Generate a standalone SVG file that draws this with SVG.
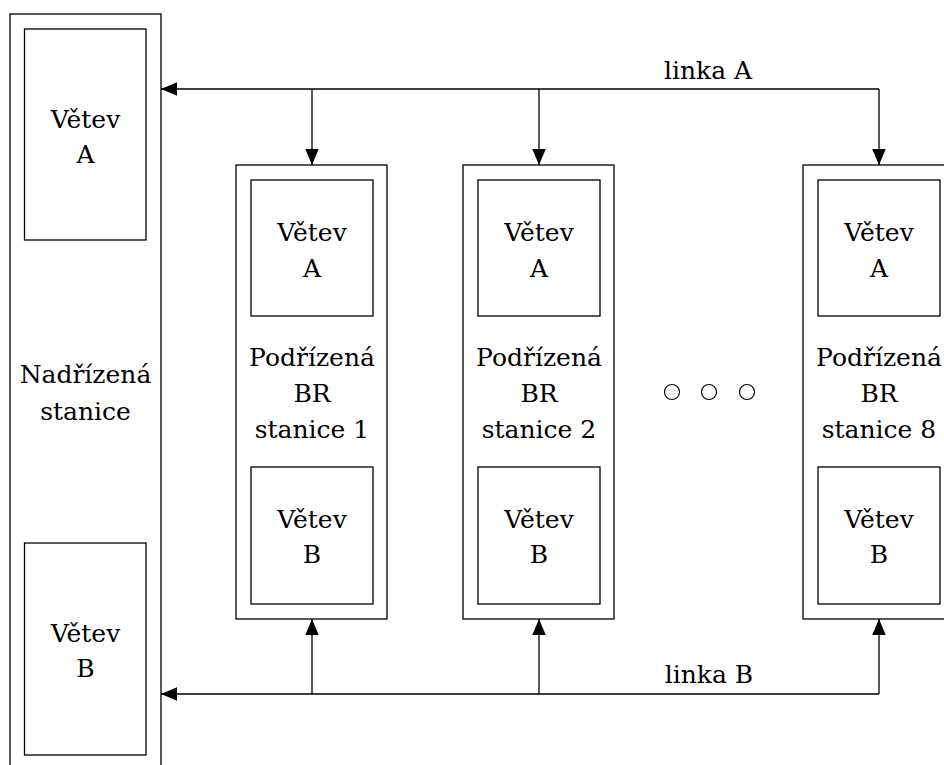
<svg xmlns="http://www.w3.org/2000/svg" width="944" height="765" viewBox="0 0 944 765">
  <defs>
    <marker id="arrow" markerUnits="userSpaceOnUse" markerWidth="17" markerHeight="14" refX="16" refY="6.75" orient="auto">
      <path d="M0,0 L16,6.75 L0,13.5 Z" fill="#000"/>
    </marker>
    <style>
      .box { fill: none; stroke: #000; stroke-width: 1.3; }
      .wire { fill: none; stroke: #000; stroke-width: 1.3; marker-end: url(#arrow); }
      .lbl { font-family: 'DejaVu Serif', 'Liberation Serif', serif; font-size: 25px; fill: #000; text-anchor: middle; }
      .dot { fill: none; stroke: #000; stroke-width: 1.2; }
    </style>
  </defs>
  <rect x="0" y="0" width="944" height="765" fill="#fff"/>

  <!-- master station -->
  <g id="master">
    <rect class="box" x="10" y="14" width="151" height="770"/>
    <text class="lbl" x="85.5" y="383">Nadřízená</text>
    <text class="lbl" x="85.5" y="420">stanice</text>
  </g>
  <g id="master-branch-a">
    <rect class="box" x="24.5" y="29" width="121.5" height="211"/>
    <text class="lbl" x="85.5" y="128">Větev</text>
    <text class="lbl" x="85.5" y="163">A</text>
  </g>
  <g id="master-branch-b">
    <rect class="box" x="24.5" y="543" width="121.5" height="212"/>
    <text class="lbl" x="85.5" y="642">Větev</text>
    <text class="lbl" x="85.5" y="677">B</text>
  </g>

  <!-- slave station 1 -->
  <g id="slave1">
    <rect class="box" x="236" y="165" width="151" height="454"/>
    <text class="lbl" x="312" y="366">Podřízená</text>
    <text class="lbl" x="312" y="402">BR</text>
    <text class="lbl" x="312" y="438">stanice 1</text>
  </g>
  <g id="slave1-branch-a">
    <rect class="box" x="251" y="180" width="122" height="136"/>
    <text class="lbl" x="312" y="241">Větev</text>
    <text class="lbl" x="312" y="277">A</text>
  </g>
  <g id="slave1-branch-b">
    <rect class="box" x="251" y="467" width="122" height="137"/>
    <text class="lbl" x="312" y="528">Větev</text>
    <text class="lbl" x="312" y="563">B</text>
  </g>

  <!-- slave station 2 -->
  <g id="slave2">
    <rect class="box" x="463" y="165" width="151" height="454"/>
    <text class="lbl" x="539" y="366">Podřízená</text>
    <text class="lbl" x="539" y="402">BR</text>
    <text class="lbl" x="539" y="438">stanice 2</text>
  </g>
  <g id="slave2-branch-a">
    <rect class="box" x="478" y="180" width="122" height="136"/>
    <text class="lbl" x="539" y="241">Větev</text>
    <text class="lbl" x="539" y="277">A</text>
  </g>
  <g id="slave2-branch-b">
    <rect class="box" x="478" y="467" width="122" height="137"/>
    <text class="lbl" x="539" y="528">Větev</text>
    <text class="lbl" x="539" y="563">B</text>
  </g>

  <!-- ellipsis between stations -->
  <g id="ellipsis">
    <circle class="dot" cx="672" cy="392" r="7.5"/>
    <circle class="dot" cx="709" cy="392" r="7.5"/>
    <circle class="dot" cx="747" cy="392" r="7.5"/>
  </g>

  <!-- slave station 8 -->
  <g id="slave8">
    <rect class="box" x="803" y="165" width="151" height="454"/>
    <text class="lbl" x="879" y="366">Podřízená</text>
    <text class="lbl" x="879" y="402">BR</text>
    <text class="lbl" x="879" y="438">stanice 8</text>
  </g>
  <g id="slave8-branch-a">
    <rect class="box" x="818" y="180" width="122" height="136"/>
    <text class="lbl" x="879" y="241">Větev</text>
    <text class="lbl" x="879" y="277">A</text>
  </g>
  <g id="slave8-branch-b">
    <rect class="box" x="818" y="467" width="122" height="137"/>
    <text class="lbl" x="879" y="528">Větev</text>
    <text class="lbl" x="879" y="563">B</text>
  </g>

  <!-- bus lines -->
  <g id="connectors">
    <line class="wire" x1="879" y1="89" x2="161" y2="89"/>
    <line class="wire" x1="312" y1="89" x2="312" y2="165"/>
    <line class="wire" x1="539" y1="89" x2="539" y2="165"/>
    <line class="wire" x1="879" y1="89" x2="879" y2="165"/>
    <text class="lbl" x="708" y="79">linka A</text>

    <line class="wire" x1="879" y1="694" x2="161" y2="694"/>
    <line class="wire" x1="312" y1="694" x2="312" y2="619"/>
    <line class="wire" x1="539" y1="694" x2="539" y2="619"/>
    <line class="wire" x1="879" y1="694" x2="879" y2="619"/>
    <text class="lbl" x="709" y="683">linka B</text>
  </g>
</svg>
